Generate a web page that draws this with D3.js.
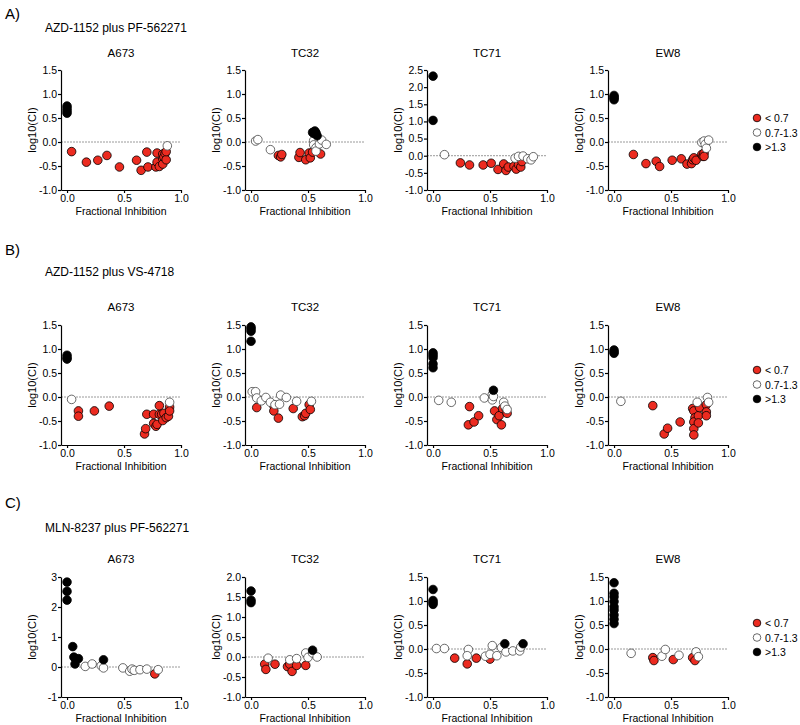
<!DOCTYPE html>
<html>
<head>
<meta charset="utf-8">
<script src="https://cdn.jsdelivr.net/npm/d3@7"></script>
<style>
  body { margin: 0; background: #fff; }
  svg text { font-family: Arial, "Liberation Sans", sans-serif; fill: #000; }
</style>
</head>
<body>
<div id="chart"></div>
<script>
  const sectionLabels = ["A)", "B)", "C)"];
  const combos = ["AZD-1152 plus PF-562271", "AZD-1152 plus VS-4718", "MLN-8237 plus PF-562271"];
  const cellLines = ["A673", "TC32", "TC71", "EW8"];
  const legendLabels = ["< 0.7", "0.7-1.3", ">1.3"];
  const xTicks = [0, 0.5, 1.0];
  const yMax = [[1.5, 1.5, 2.5, 1.5], [1.5, 1.5, 1.5, 1.5], [3, 2, 1.5, 1.5]];
  const yStep = [[0.5, 0.5, 0.5, 0.5], [0.5, 0.5, 0.5, 0.5], [1, 0.5, 0.5, 0.5]];
  const yMin = -1;

  // points: [fractional inhibition, log10(CI), group] group 0: <0.7, 1: 0.7-1.3, 2: >1.3
  const A_A673 = [
    [0.04,-0.20,0],[0.17,-0.42,0],[0.27,-0.38,0],[0.35,-0.28,0],[0.46,-0.52,0],[0.61,-0.38,0],
    [0.65,-0.59,0],[0.70,-0.21,0],[0.71,-0.52,0],[0.78,-0.52,0],[0.79,-0.23,0],[0.79,-0.42,0],
    [0.81,-0.51,0],[0.84,-0.35,0],[0.84,-0.25,0],[0.84,-0.46,0],[0.85,-0.31,0],[0.86,-0.24,0],
    [0.87,-0.37,0],[0.87,-0.20,0],
    [0.88,-0.08,1],
    [0,0.75,2],[0,0.70,2],[0,0.65,2],[0,0.60,2]
  ];
  const A_TC32 = [
    [0.24,-0.28,0],[0.26,-0.31,0],[0.27,-0.26,0],[0.42,-0.32,0],[0.43,-0.22,0],[0.48,-0.37,0],
    [0.51,-0.23,0],[0.52,-0.33,0],[0.54,-0.21,0],[0.61,-0.25,0],
    [0.04,0.02,1],[0.06,0.05,1],[0.17,-0.16,1],[0.55,0.03,1],[0.55,-0.06,1],[0.57,-0.12,1],
    [0.57,-0.19,1],[0.60,-0.04,1],[0.62,0.04,1],[0.66,-0.05,1],
    [0.54,0.20,2],[0.55,0.18,2],[0.56,0.23,2],[0.57,0.19,2],[0.58,0.13,2]
  ];
  const A_TC71 = [
    [0.24,-0.21,0],[0.32,-0.27,0],[0.44,-0.27,0],[0.51,-0.22,0],[0.57,-0.40,0],[0.62,-0.24,0],
    [0.64,-0.43,0],[0.66,-0.33,0],[0.71,-0.31,0],[0.73,-0.39,0],[0.75,-0.26,0],[0.77,-0.33,0],
    [0.78,-0.17,0],
    [0.10,0.03,1],[0.72,-0.07,1],[0.75,-0.02,1],[0.79,-0.01,1],[0.83,-0.09,1],[0.86,-0.12,1],
    [0.88,-0.03,1],
    [0,2.32,2],[0,1.03,2]
  ];
  const A_EW8 = [
    [0.17,-0.26,0],[0.28,-0.45,0],[0.37,-0.40,0],[0.40,-0.51,0],[0.51,-0.38,0],[0.59,-0.35,0],
    [0.64,-0.46,0],[0.68,-0.45,0],[0.69,-0.37,0],[0.70,-0.33,0],[0.72,-0.38,0],[0.77,-0.26,0],
    [0.78,-0.30,0],[0.79,-0.23,0],[0.79,-0.30,0],
    [0.77,-0.01,1],[0.79,0.02,1],[0.80,-0.05,1],[0.81,-0.13,1],[0.83,0.04,1],
    [0,0.97,2],[0,0.94,2],[0,0.91,2],[0,0.88,2]
  ];
  const B_A673 = [
    [0.10,-0.29,0],[0.10,-0.40,0],[0.24,-0.29,0],[0.37,-0.19,0],[0.68,-0.77,0],[0.69,-0.66,0],
    [0.70,-0.36,0],[0.76,-0.36,0],[0.76,-0.55,0],[0.78,-0.61,0],[0.79,-0.57,0],[0.81,-0.36,0],
    [0.81,-0.18,0],[0.83,-0.36,0],[0.84,-0.49,0],[0.85,-0.34,0],[0.87,-0.43,0],[0.89,-0.40,0],
    [0.90,-0.21,0],[0.90,-0.29,0],
    [0.04,-0.05,1],[0.90,-0.11,1],
    [0,0.87,2],[0,0.82,2],[0,0.79,2]
  ];
  const B_TC32 = [
    [0.05,-0.22,0],[0.20,-0.18,0],[0.20,-0.29,0],[0.24,-0.44,0],[0.37,-0.24,0],[0.45,-0.41,0],
    [0.47,-0.39,0],[0.48,-0.34,0],[0.51,-0.16,0],[0.52,-0.26,0],
    [0.01,0.11,1],[0.04,0.11,1],[0.05,-0.02,1],[0.09,-0.08,1],[0.13,-0.01,1],[0.17,-0.11,1],
    [0.21,-0.16,1],[0.25,-0.15,1],[0.26,0.04,1],[0.31,-0.01,1],[0.40,-0.09,1],[0.53,-0.09,1],
    [0,1.46,2],[0,1.42,2],[0,1.37,2],[0,1.16,2]
  ];
  const B_TC71 = [
    [0.32,-0.20,0],[0.31,-0.58,0],[0.36,-0.52,0],[0.40,-0.39,0],[0.54,-0.29,0],[0.56,-0.47,0],
    [0.58,-0.39,0],[0.60,-0.58,0],[0.61,-0.24,0],[0.64,-0.24,0],[0.65,-0.34,0],
    [0.05,-0.07,1],[0.16,-0.11,1],[0.45,-0.02,1],[0.52,0.05,1],[0.52,-0.06,1],[0.53,0.01,1],
    [0.62,-0.11,1],[0.63,-0.19,1],[0.65,-0.26,1],
    [0,0.92,2],[0,0.87,2],[0,0.82,2],[0,0.69,2],[0,0.61,2],[0.53,0.14,2]
  ];
  const B_EW8 = [
    [0.34,-0.18,0],[0.44,-0.77,0],[0.47,-0.65,0],[0.58,-0.52,0],[0.69,-0.24,0],[0.70,-0.29,0],
    [0.71,-0.43,0],[0.70,-0.52,0],[0.70,-0.66,0],[0.70,-0.79,0],[0.74,-0.39,0],[0.74,-0.54,0],
    [0.75,-0.22,0],[0.81,-0.16,0],[0.81,-0.31,0],[0.81,-0.39,0],
    [0.06,-0.09,1],[0.73,-0.11,1],[0.82,-0.01,1],[0.83,-0.11,1],
    [0,0.98,2],[0,0.94,2],[0,0.91,2]
  ];
  const C_A673 = [
    [0.77,-0.23,0],
    [0.16,0.02,1],[0.22,0.10,1],[0.30,0.04,1],[0.32,-0.03,1],[0.49,-0.03,1],[0.55,-0.14,1],
    [0.57,-0.07,1],[0.59,-0.11,1],[0.64,-0.09,1],[0.70,-0.07,1],[0.80,-0.09,1],
    [0,2.83,2],[0,2.52,2],[0,2.23,2],[0.05,0.68,2],[0.06,0.33,2],[0.07,0.10,2],[0.10,0.28,2],
    [0.32,0.24,2]
  ];
  const C_TC32 = [
    [0.12,-0.18,0],[0.13,-0.31,0],[0.21,-0.18,0],[0.32,-0.24,0],[0.34,-0.18,0],[0.36,-0.36,0],
    [0.40,-0.21,0],[0.48,-0.21,0],
    [0.15,-0.03,1],[0.34,-0.07,1],[0.40,-0.04,1],[0.48,0.10,1],[0.50,-0.01,1],[0.54,0.10,1],
    [0.58,0.0,1],
    [0,1.65,2],[0,1.42,2],[0,1.36,2],[0.54,0.17,2]
  ];
  const C_TC71 = [
    [0.19,-0.19,0],[0.30,-0.31,0],[0.38,-0.19,0],[0.50,-0.21,0],
    [0.03,0.01,1],[0.10,0.01,1],[0.31,-0.01,1],[0.30,-0.14,1],[0.46,-0.15,1],[0.50,-0.11,1],
    [0.52,0.07,1],[0.56,-0.14,1],[0.60,0.03,1],[0.64,-0.06,1],[0.70,-0.04,1],[0.76,-0.04,1],
    [0.77,0.04,1],
    [0,1.24,2],[0,1.01,2],[0,0.97,2],[0,0.93,2],[0.63,0.11,2],[0.79,0.11,2]
  ];
  const C_EW8 = [
    [0.34,-0.18,0],[0.35,-0.24,0],[0.52,-0.22,0],[0.69,-0.18,0],[0.71,-0.24,0],
    [0.15,-0.09,1],[0.42,-0.15,1],[0.45,-0.01,1],[0.57,-0.13,1],[0.72,-0.06,1],[0.74,-0.16,1],
    [0,1.38,2],[0,1.16,2],[0,1.09,2],[0,0.99,2],[0,0.88,2],[0,0.81,2],[0,0.71,2],[0,0.62,2],
    [0,0.53,2]
  ];
  const rows = [
    [A_A673, A_TC32, A_TC71, A_EW8],
    [B_A673, B_TC32, B_TC71, B_EW8],
    [C_A673, C_TC32, C_TC71, C_EW8]
  ];

  // layout
  const width = 800, height = 725;
  const colAxisX = [61, 245, 427, 608];
  const rowTop = [70, 325, 577];
  const plotW = 120, plotH = 120;
  const sectionLabelY = [13, 249, 502];
  const comboY = [28, 272, 528];
  const panelTitleY = [53, 307, 559];
  const legendY = [118, 370, 623];
  const fills = ["#ec2b20", "#ffffff", "#000000"];

  let svg = d3.select('#chart').append('svg')
    .attr('width', width)
    .attr('height', height);

  rows.forEach((row, r) => {
    svg.append('text')
      .attr('x', 5).attr('y', sectionLabelY[r])
      .attr('dominant-baseline', 'central')
      .style('font-size', '15px')
      .text(sectionLabels[r]);

    svg.append('text')
      .attr('x', 45).attr('y', comboY[r])
      .attr('dominant-baseline', 'central')
      .style('font-size', '12px')
      .text(combos[r]);

    row.forEach((pts, c) => {
      let ax = colAxisX[c];
      let top = rowTop[r], bottom = top + plotH;

      let xScale = d3.scaleLinear()
        .domain([-0.053, 1])
        .range([ax, ax + plotW]);
      let yScale = d3.scaleLinear()
        .domain([yMin, yMax[r][c]])
        .range([bottom, top]);

      let yTicks = d3.range(yMin, yMax[r][c] + 1e-9, yStep[r][c]);
      let yFmt = yStep[r][c] >= 1 ? (d => d3.format('d')(d).replace('−', '-')) : (d => d.toFixed(1));

      let g = svg.append('g');

      // zero reference line
      g.append('line')
        .attr('x1', xScale.range()[0]).attr('x2', xScale.range()[1])
        .attr('y1', yScale(0)).attr('y2', yScale(0))
        .attr('stroke', '#9a9a9a')
        .attr('stroke-width', 1)
        .attr('stroke-dasharray', '2,1');

      let xAxis = g.append('g')
        .attr('transform', `translate(0, ${bottom})`)
        .call(d3.axisBottom(xScale).tickValues(xTicks).tickFormat(d => d.toFixed(1))
          .tickSize(3).tickSizeOuter(0).tickPadding(2));
      let yAxis = g.append('g')
        .attr('transform', `translate(${ax}, 0)`)
        .call(d3.axisLeft(yScale).tickValues(yTicks).tickFormat(yFmt)
          .tickSize(3).tickSizeOuter(0).tickPadding(1));
      [xAxis, yAxis].forEach(a => {
        a.selectAll('text').style('font-size', '10.5px').attr('fill', '#000');
        a.selectAll('path, line').attr('stroke', '#000').attr('stroke-width', 1.2);
      });

      g.append('text')
        .attr('x', ax + plotW / 2).attr('y', panelTitleY[r])
        .attr('text-anchor', 'middle')
        .attr('dominant-baseline', 'central')
        .style('font-size', '11.5px')
        .text(cellLines[c]);

      g.append('text')
        .attr('x', ax + plotW / 2).attr('y', bottom + 21)
        .attr('text-anchor', 'middle')
        .attr('dominant-baseline', 'central')
        .style('font-size', '10.5px')
        .text('Fractional Inhibition');

      g.append('text')
        .attr('transform', `translate(${ax - 29}, ${(top + bottom) / 2}) rotate(-90)`)
        .attr('text-anchor', 'middle')
        .attr('dominant-baseline', 'central')
        .style('font-size', '11px')
        .text('log10(CI)');

      g.selectAll('circle')
        .data(pts.slice().sort((a, b) => a[2] - b[2]))
        .enter()
        .append('circle')
        .attr('cx', d => xScale(d[0]))
        .attr('cy', d => yScale(d[1]))
        .attr('r', 4.3)
        .attr('fill', d => fills[d[2]])
        .attr('stroke', d => d[2] === 1 ? '#444' : '#000')
        .attr('stroke-width', 0.8);
    });

    // legend
    let lg = svg.append('g')
      .attr('transform', `translate(757, ${legendY[r]})`);
    legendLabels.forEach((lab, i) => {
      lg.append('circle')
        .attr('cx', 0).attr('cy', i * 14.5)
        .attr('r', 3.8)
        .attr('fill', fills[i])
        .attr('stroke', i === 1 ? '#444' : '#000')
        .attr('stroke-width', 0.8);
      lg.append('text')
        .attr('x', 8).attr('y', i * 14.5)
        .attr('dominant-baseline', 'central')
        .style('font-size', '10.5px')
        .text(lab);
    });
  });
</script>
</body>
</html>
